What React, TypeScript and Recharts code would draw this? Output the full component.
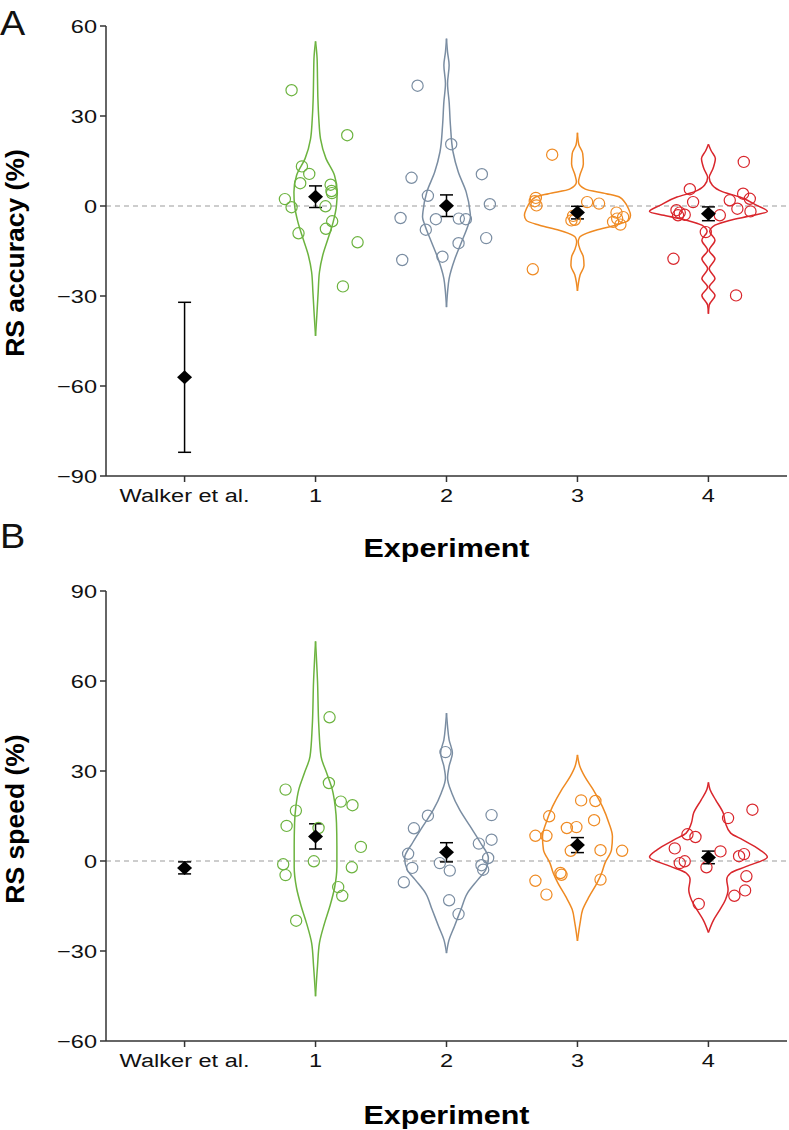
import React from 'react';
import { ScatterChart, Scatter, XAxis, YAxis, ReferenceLine, ErrorBar } from 'recharts';

const FONT = '"Liberation Sans", Arial, Helvetica, sans-serif';

const categories = ['Walker et al.', '1', '2', '3', '4'];
const xTicks = [0, 1, 2, 3, 4];
const accTicks = [-90, -60, -30, 0, 30, 60];
const speedTicks = [-60, -30, 0, 30, 60, 90];
const expColors = ['#6cb33f', '#7a8da2', '#ef8a22', '#d9262c'];

// group means and error bar half-lengths (Walker et al., exp 1-4)
const accMeans = [-57.1, 3.1, 0.1, -2.2, -2.6];
const accErrors = [25, 3.6, 3.6, 2.1, 2.3];
const speedMeans = [-2.3, 8.2, 2.9, 5.3, 1.2];
const speedErrors = [2, 4.2, 3.2, 2.5, 2.1];

// individual participants, panel A
const accValues = [
  [38.6, 23.6, 13.2, 10.7, 7.6, 7.1, 5.0, 4.3, 2.3, -0.4, -0.1, -5.1, -7.6, -9.1, -12.1, -26.8],
  [40.1, 20.6, 9.4, 10.6, 3.4, 0.6, -4.0, -4.4, -4.2, -4.4, -7.9, -10.7, -12.4, -16.9, -18.0],
  [17.1, 2.7, 1.6, 0.2, 1.3, 0.8, -3.3, -4.6, -4.8, -2.2, -3.7, -4.2, -5.3, -6.2, -21.1],
  [14.7, 5.6, 1.3, -1.4, -2.2, -2.9, -3.1, -3.1, 1.9, 4.1, 2.4, -0.9, -1.8, -8.7, -17.6, -29.8],
];
const accJitter = [
  [-0.183, 0.242, -0.104, -0.048, -0.117, 0.115, 0.122, 0.125, -0.234, -0.183, 0.076, 0.127, 0.079, -0.13, 0.321, 0.209],
  [-0.221, 0.036, -0.267, 0.27, -0.142, 0.331, -0.351, -0.081, 0.094, 0.148, -0.158, 0.303, 0.092, -0.031, -0.338],
  [-0.193, -0.318, -0.326, -0.313, 0.074, 0.165, -0.033, -0.02, -0.046, 0.298, 0.349, 0.303, 0.272, 0.328, -0.341],
  [0.27, -0.142, -0.117, -0.244, -0.219, -0.181, -0.232, 0.087, 0.163, 0.265, 0.316, 0.221, 0.321, -0.02, -0.267, 0.211],
];

// individual participants, panel B
const speedValues = [
  [47.9, 23.8, 26.0, 19.8, 18.6, 16.8, 11.7, 11.0, 4.7, -0.1, -1.1, -4.7, -2.1, -8.7, -11.6, -19.9],
  [36.3, 15.1, 15.3, 10.9, 7.1, 5.8, 1.0, 2.4, -2.3, -1.4, -2.9, -0.7, -3.2, -7.1, -13.1, -17.7],
  [20.2, 20.0, 14.9, 13.6, 11.0, 11.3, 8.4, 8.4, 3.4, 3.6, 3.4, -4.0, -4.6, -6.6, -6.2, -11.2],
  [17.1, 14.3, 8.9, 8.0, 4.2, 3.2, 2.3, 1.6, -0.7, -0.1, -2.1, -5.1, -9.8, -11.6, -14.3],
];
const speedJitter = [
  [0.107, -0.229, 0.102, 0.193, 0.282, -0.15, -0.221, 0.023, 0.346, -0.013, -0.247, -0.229, 0.277, 0.173, 0.204, -0.148],
  [-0.008, -0.142, 0.344, -0.249, 0.344, 0.247, 0.318, -0.293, -0.262, 0.267, 0.28, -0.051, 0.025, -0.326, 0.02, 0.092],
  [0.028, 0.137, -0.216, 0.127, -0.081, -0.008, -0.321, -0.237, -0.051, 0.176, 0.341, -0.13, -0.122, -0.321, 0.176, -0.237],
  [0.336, 0.15, -0.16, -0.099, -0.257, 0.092, 0.272, 0.234, -0.219, -0.181, -0.015, 0.29, 0.28, 0.198, -0.074],
];

// violin outlines: levels (bottom to top) and half widths in category units
const accViolinLevels = [
  [-43.3, -36.4, -28.7, -22, -16.4, -10.9, -5.3, 0.2, 4.7, 10.2, 15.8, 22.4, 29.1, 35.8, 42.4, 49.1, 54.9],
  [-33.7, -28.7, -24.2, -17.6, -12, -6.4, -3.7, -2, 4.7, 11.3, 18, 26.9, 34.7, 40.8, 46.9, 51.3, 55.8],
  [-28.3, -25.5, -23, -19.8, -17, -14.5, -12, -10.5, -9.8, -8.1, -6.4, -4.8, -3.1, -0.9, 1.3, 3, 4.1, 5.6, 8, 10.5, 14, 17.5, 20.5, 24.4],
  [-35.9, -33, -29.8, -27, -24.2, -20.9, -17.6, -14.8, -11.4, -8.5, -6.4, -4.8, -3.1, -1.8, 0.2, 3, 4.7, 6.9, 9.5, 12.5, 15.8, 18.5, 20.6],
];
const accViolinWidths = [
  [0, 0.01, 0.02, 0.03, 0.055, 0.095, 0.135, 0.16, 0.165, 0.145, 0.08, 0.038, 0.025, 0.018, 0.015, 0.012, 0],
  [0, 0.008, 0.02, 0.064, 0.115, 0.165, 0.183, 0.18, 0.15, 0.09, 0.05, 0.03, 0.02, 0.008, 0.02, 0.008, 0],
  [0, 0.008, 0.02, 0.05, 0.045, 0.02, 0.006, 0.015, 0.035, 0.14, 0.29, 0.39, 0.405, 0.39, 0.36, 0.32, 0.22, 0.06, 0.008, 0.02, 0.045, 0.04, 0.01, 0],
  [0, 0.006, 0.05, 0.006, 0.05, 0.006, 0.05, 0.006, 0.05, 0.01, 0.05, 0.16, 0.34, 0.45, 0.37, 0.24, 0.11, 0.03, 0.006, 0.035, 0.053, 0.02, 0],
];
const speedViolinLevels = [
  [-45.1, -35.1, -27.3, -20.7, -15, -9, -2, 5, 12.7, 18.2, 23.8, 29.3, 34.9, 45, 60, 73.2],
  [-30.7, -26.2, -21.8, -16.2, -10.7, -6.2, -2.9, 1, 6, 11.6, 17.1, 22.7, 27.7, 31.6, 36, 40.4, 44.9, 49.3],
  [-26.6, -20.7, -16.2, -11.8, -7.3, -4, -0.7, 3.8, 8.2, 12.7, 18.2, 23.8, 28.2, 31.6, 35.4],
  [-23.8, -19.6, -16.2, -12.9, -9.6, -6.2, -4, -1.8, 1.3, 3.8, 7.1, 9.3, 12.7, 16, 20.4, 23.8, 26.2],
];
const speedViolinWidths = [
  [0, 0.015, 0.03, 0.069, 0.11, 0.145, 0.163, 0.163, 0.16, 0.15, 0.128, 0.085, 0.042, 0.025, 0.015, 0],
  [0, 0.02, 0.06, 0.11, 0.16, 0.24, 0.3, 0.32, 0.26, 0.18, 0.1, 0.04, 0.008, 0.02, 0.045, 0.02, 0.008, 0],
  [0, 0.02, 0.04, 0.09, 0.15, 0.185, 0.21, 0.26, 0.267, 0.24, 0.19, 0.12, 0.055, 0.018, 0],
  [0, 0.04, 0.088, 0.13, 0.15, 0.14, 0.17, 0.29, 0.45, 0.39, 0.26, 0.17, 0.13, 0.113, 0.055, 0.012, 0],
];

const XTick = (props: any) => {
  const { x, y, payload } = props;
  return (
    <g transform={`translate(${x},${y})`}>
      <text transform="scale(1.24,1)" y={18} textAnchor="middle" fontSize={19} fontFamily={FONT} fill="#111">
        {categories[payload.value]}
      </text>
    </g>
  );
};

const YTick = (props: any) => {
  const { x, y, payload } = props;
  const label = payload.value < 0 ? `\u2212${Math.abs(payload.value)}` : `${payload.value}`;
  return (
    <g transform={`translate(${x},${y})`}>
      <text transform="scale(1.24,1)" y={6.8} textAnchor="end" fontSize={19} fontFamily={FONT} fill="#111">
        {label}
      </text>
    </g>
  );
};

const Diamond = (p: any) => (
  <polygon
    points={`${p.cx},${p.cy - 7} ${p.cx + 7.5},${p.cy} ${p.cx},${p.cy + 7} ${p.cx - 7.5},${p.cy}`}
    fill="#000"
  />
);

const Nothing = () => <g />;

interface PanelProps {
  domain: [number, number];
  ticks: number[];
  values: number[][];
  jitter: number[][];
  levels: number[][];
  widths: number[][];
  means: number[];
  errors: number[];
}

function Panel({ domain, ticks, values, jitter, levels, widths, means, errors }: PanelProps) {
  const meanData = means.map((m, i) => ({ x: i, y: m, err: errors[i] }));
  return (
    <ScatterChart width={789} height={560} margin={{ top: 26, right: 2, left: 0, bottom: 44 }}>
      <XAxis
        type="number"
        dataKey="x"
        domain={[-0.6, 4.6]}
        ticks={xTicks}
        allowDataOverflow
        height={40}
        tickSize={6}
        tickMargin={2}
        stroke="#333"
        strokeWidth={1.5}
        tick={<XTick />}
      />
      <YAxis
        type="number"
        dataKey="y"
        domain={domain}
        ticks={ticks}
        allowDataOverflow
        width={106}
        tickSize={6}
        tickMargin={3}
        stroke="#333"
        strokeWidth={1.5}
        tick={<YTick />}
      />
      <ReferenceLine y={0} stroke="#bdbdbd" strokeWidth={1.3} strokeDasharray="5 4" />
      {levels.map((lv, i) => (
        <Scatter
          key={`vr${i}`}
          data={lv.map((l, k) => ({ x: i + 1 + widths[i][k], y: l }))}
          line={{ stroke: expColors[i], strokeWidth: 1.5 }}
          lineJointType="monotoneY"
          shape={<Nothing />}
          isAnimationActive={false}
        />
      ))}
      {levels.map((lv, i) => (
        <Scatter
          key={`vl${i}`}
          data={lv.map((l, k) => ({ x: i + 1 - widths[i][k], y: l }))}
          line={{ stroke: expColors[i], strokeWidth: 1.5 }}
          lineJointType="monotoneY"
          shape={<Nothing />}
          isAnimationActive={false}
        />
      ))}
      {values.map((vals, i) => (
        <Scatter
          key={`p${i}`}
          data={vals.map((v, j) => ({ x: i + 1 + jitter[i][j], y: v }))}
          shape={(p: any) => (
            <circle cx={p.cx} cy={p.cy} r={5.6} fill="none" stroke={expColors[i]} strokeWidth={1.2} />
          )}
          isAnimationActive={false}
        />
      ))}
      <Scatter data={meanData} shape={<Diamond />} isAnimationActive={false}>
        <ErrorBar dataKey="err" direction="y" width={6.5} stroke="#000" strokeWidth={1.5} />
      </Scatter>
    </ScatterChart>
  );
}

export default function App() {
  return (
    <div style={{ position: 'absolute', left: 0, top: 0, width: 789, height: 1130, background: '#fff' }}>
      <div style={{ position: 'absolute', left: 0, top: 0 }}>
        <Panel
          domain={[-90, 60]}
          ticks={accTicks}
          values={accValues}
          jitter={accJitter}
          levels={accViolinLevels}
          widths={accViolinWidths}
          means={accMeans}
          errors={accErrors}
        />
      </div>
      <div style={{ position: 'absolute', left: 0, top: 565 }}>
        <Panel
          domain={[-60, 90]}
          ticks={speedTicks}
          values={speedValues}
          jitter={speedJitter}
          levels={speedViolinLevels}
          widths={speedViolinWidths}
          means={speedMeans}
          errors={speedErrors}
        />
      </div>
      <svg
        width={789}
        height={1130}
        style={{ position: 'absolute', left: 0, top: 0, pointerEvents: 'none' }}
        fontFamily={FONT}
      >
        <text transform="translate(0,35) scale(1.08,1)" fontSize={35} fill="#111">A</text>
        <text transform="translate(0,548) scale(1.08,1)" fontSize={35} fill="#111">B</text>
        <text transform="translate(24,253) rotate(-90)" textAnchor="middle" fontSize={26.5} fontWeight="bold" fill="#000">
          RS accuracy (%)
        </text>
        <text transform="translate(24,819) rotate(-90)" textAnchor="middle" fontSize={26.5} fontWeight="bold" fill="#000">
          RS speed (%)
        </text>
        <text transform="translate(446.5,557) scale(1.15,1)" textAnchor="middle" fontSize={26.5} fontWeight="bold" fill="#000">
          Experiment
        </text>
        <text transform="translate(446.5,1124) scale(1.15,1)" textAnchor="middle" fontSize={26.5} fontWeight="bold" fill="#000">
          Experiment
        </text>
      </svg>
    </div>
  );
}
